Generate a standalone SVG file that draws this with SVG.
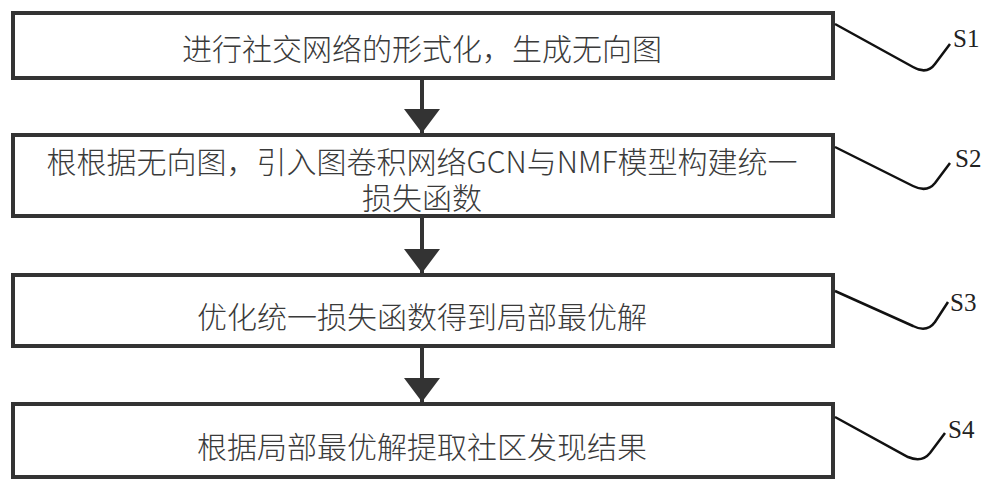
<svg xmlns="http://www.w3.org/2000/svg" width="1000" height="489" viewBox="0 0 1000 489">
<style>
.box{fill:#fff;stroke:#333;stroke-width:4}
.t{font-family:"Noto Sans CJK SC","Noto Sans",sans-serif;font-size:30px;font-weight:300;fill:#3a3a3a;text-anchor:middle}
.lbl{font-family:"Liberation Serif",serif;font-size:25px;fill:#222}
.lead{fill:none;stroke:#111;stroke-width:2.5}
.shaft{stroke:#333;stroke-width:4}
</style>
<defs>
<marker id="ah" markerWidth="6" markerHeight="9" refX="6" refY="4.5" orient="auto" markerUnits="strokeWidth">
<path d="M0,0 L6,4.5 L0,9 Z" fill="#333"/>
</marker>
</defs>
<g id="connectors">
<line class="shaft" x1="422" y1="80" x2="422" y2="133" marker-end="url(#ah)"/>
<line class="shaft" x1="422" y1="218" x2="422" y2="273" marker-end="url(#ah)"/>
<line class="shaft" x1="422" y1="348" x2="422" y2="402" marker-end="url(#ah)"/>
</g>
<g id="s1">
<rect class="box" x="13" y="13" width="820" height="65"/>
<text class="t" x="422" y="60">进行社交网络的形式化，生成无向图</text>
<path class="lead" d="M835,24 L913,67 Q927,75 935,64 L950,44"/>
<text class="lbl" x="953" y="47">S1</text>
</g>
<g id="s2">
<rect class="box" x="13" y="135" width="820" height="81"/>
<text class="t" x="422" y="173">根根据无向图，引入图卷积网络GCN与NMF模型构建统一</text>
<text class="t" x="422" y="209">损失函数</text>
<path class="lead" d="M835,147 L913,186 Q927,193 935,183 L950,163"/>
<text class="lbl" x="955" y="167">S2</text>
</g>
<g id="s3">
<rect class="box" x="13" y="275" width="820" height="71"/>
<text class="t" x="422" y="328">优化统一损失函数得到局部最优解</text>
<path class="lead" d="M835,291 L913,326 Q927,333 935,322 L948,302"/>
<text class="lbl" x="950" y="311">S3</text>
</g>
<g id="s4">
<rect class="box" x="13" y="404" width="820" height="73"/>
<text class="t" x="422" y="458">根据局部最优解提取社区发现结果</text>
<path class="lead" d="M835,417 L908,457 Q922,463 930,453 L945,433"/>
<text class="lbl" x="948" y="438">S4</text>
</g>
</svg>
